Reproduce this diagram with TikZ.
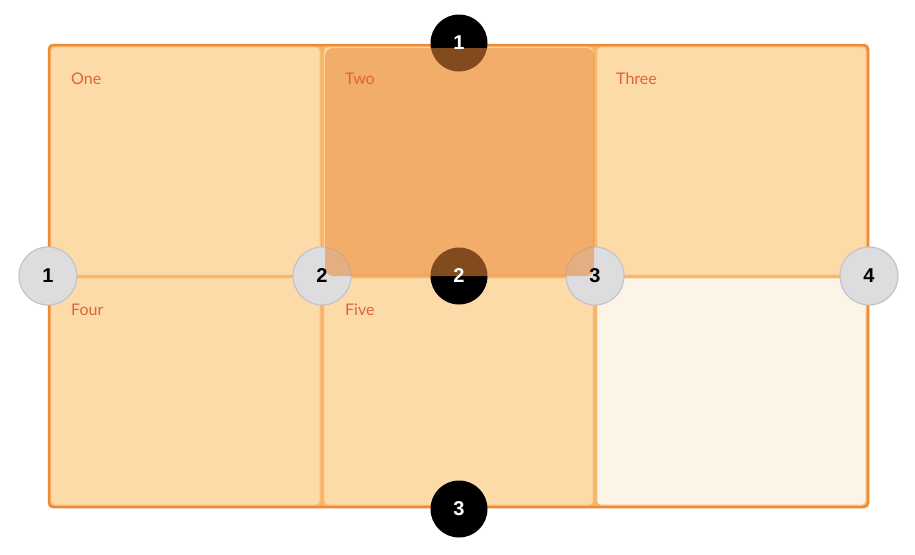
\documentclass[tikz,border=0pt]{standalone}
\usepackage{fontspec}
\setmainfont{Lato}
\newfontfamily\numfont{Liberation Sans}
\definecolor{gapc}{RGB}{247,180,104}
\definecolor{borderc}{RGB}{239,138,53}
\definecolor{cellc}{RGB}{253,219,169}
\definecolor{cellline}{RGB}{249,196,127}
\definecolor{emptyc}{RGB}{253,244,232}
\definecolor{twoc}{RGB}{235,137,56}
\definecolor{labelc}{RGB}{226,98,56}
\definecolor{grayc}{RGB}{221,221,224}
\definecolor{graylinec}{RGB}{196,196,200}
\tikzset{
  cellbox/.style={fill=cellc, draw=cellline, line width=0.8pt, rounded corners=4pt},
  emptybox/.style={fill=emptyc, draw=cellline, line width=0.8pt, rounded corners=4pt},
  twobox/.style={fill=twoc, fill opacity=0.55, draw=none, rounded corners=8pt},
  celllabel/.style={anchor=west, text=labelc, font=\fontsize{16}{19}\selectfont, inner sep=0pt},
  graydot/.style={circle, minimum size=58pt, inner sep=0pt, fill=grayc, draw=graylinec, line width=1.2pt},
  blackdot/.style={circle, minimum size=57pt, inner sep=0pt, fill=black, draw=none},
  darknum/.style={font=\numfont\bfseries\fontsize{20}{23}\selectfont, text=black, inner sep=0pt},
  lightnum/.style={font=\numfont\bfseries\fontsize{20}{23}\selectfont, text=white, inner sep=0pt}
}
\begin{document}
\begin{tikzpicture}[x=1pt, y=-1pt]
\useasboundingbox (0,0) rectangle (915,554);
\fill[white] (0,0) rectangle (915,554);
% container
\draw[fill=gapc, draw=borderc, line width=2.5pt, rounded corners=4pt] (49,45) rectangle (868,507);
% cells
\draw[cellbox] (51,47) rectangle (320,275);
\draw[cellbox] (324,47) rectangle (593,275);
\draw[cellbox] (597,47) rectangle (866,275);
\draw[cellbox] (51,278) rectangle (320,505);
\draw[cellbox] (324,278) rectangle (593,505);
\draw[emptybox] (597,278) rectangle (866,505);
% black line markers
\node[blackdot] (b1) at (459,43) {};
\node[blackdot] (b2) at (459,276) {};
\node[blackdot] (b3) at (459,509) {};
% gray column markers
\node[graydot] (g1) at (48,276) {};
\node[graydot] (g2) at (322,276) {};
\node[graydot] (g3) at (595,276) {};
\node[graydot] (g4) at (869,276) {};
% Two overlay
\path[twobox] (325,48) rectangle (594,276);
% labels
\node[celllabel] (lone) at (71,79) {One};
\node[celllabel] (ltwo) at (345,79) {Two};
\node[celllabel] (lthree) at (616,79) {Three};
\node[celllabel] (lfour) at (71,310) {Four};
\node[celllabel] (lfive) at (345,310) {Five};
% numbers
\node[lightnum] (nb1) at (b1.center) {1};
\node[lightnum] (nb2) at (b2.center) {2};
\node[lightnum] (nb3) at (b3.center) {3};
\node[darknum] (ng1) at (g1.center) {1};
\node[darknum] (ng2) at (g2.center) {2};
\node[darknum] (ng3) at (g3.center) {3};
\node[darknum] (ng4) at (g4.center) {4};
\end{tikzpicture}
\end{document}
